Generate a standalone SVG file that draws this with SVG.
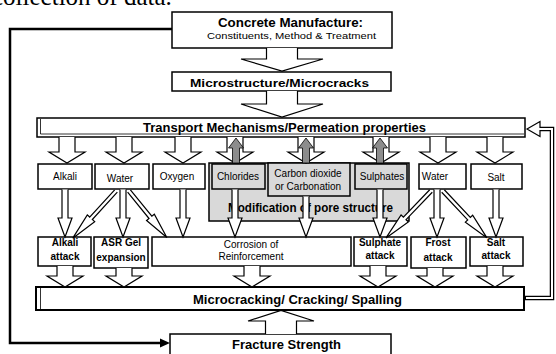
<svg xmlns="http://www.w3.org/2000/svg" width="556" height="354" viewBox="0 0 556 354">
<style>
text{font-family:"Liberation Sans",Arial,sans-serif;fill:#000;text-anchor:middle}
.box{fill:#fff;stroke:#000;stroke-width:1.5}
.gbox{fill:#d9d9d9;stroke:#000;stroke-width:1.5}
.arr{fill:#fff;stroke:#000;stroke-width:1.2;stroke-linejoin:miter}
.garr{fill:#8c8c8c;stroke:#000;stroke-width:0.8}
.s10{font-size:10px}
.b{font-weight:bold}
.big{font-size:12.5px;font-weight:bold}
</style>
<rect width="556" height="354" fill="#fff"/>
<text x="-8" y="5" style="font-family:'Liberation Serif',serif;font-size:25px;text-anchor:start">collection of data.</text>

<g id="concrete"><rect class="box" x="172" y="12" width="220" height="36"/>
<text class="big" x="290.5" y="27" textLength="145" lengthAdjust="spacingAndGlyphs">Concrete Manufacture:</text>
<text x="291.5" y="39" style="font-size:9.5px" textLength="169" lengthAdjust="spacingAndGlyphs">Constituents, Method &amp; Treatment</text></g>

<g id="micro"><rect class="box" x="172" y="72" width="219" height="19"/>
<text x="279.5" y="86.5" style="font-size:11.5px;font-weight:bold" textLength="179" lengthAdjust="spacingAndGlyphs">Microstructure/Microcracks</text></g>

<g id="transport"><rect class="box" x="37" y="118" width="488" height="19"/>
<polyline points="40.5,119 40.5,134 524,134" fill="none" stroke="#000" stroke-width="0.8"/>
<text class="big" x="284.5" y="132" textLength="283" lengthAdjust="spacingAndGlyphs">Transport Mechanisms/Permeation properties</text></g>

<g id="alkali"><rect class="box" x="38" y="164" width="54" height="25"/><text class="s10" x="65" y="180">Alkali</text></g>
<g id="water1"><rect class="box" x="95" y="164" width="54" height="25"/><text class="s10" x="120" y="182">Water</text></g>
<g id="oxygen"><rect class="box" x="153" y="164" width="52" height="25"/><text class="s10" x="177" y="180">Oxygen</text></g>

<g id="pore"><rect class="gbox" x="209" y="163" width="200" height="58"/>
<text class="big" x="310.5" y="212" textLength="165" lengthAdjust="spacingAndGlyphs">Modification of pore structure</text></g>
<g id="chlorides"><rect class="gbox" x="212" y="164" width="53" height="25"/><text class="s10" x="238" y="180">Chlorides</text></g>
<g id="carbon"><rect class="gbox" x="268" y="163" width="82" height="33"/>
<text class="s10" x="308" y="177">Carbon dioxide</text><text class="s10" x="308" y="190">or Carbonation</text></g>
<g id="sulphates"><rect class="gbox" x="355" y="164" width="52" height="25"/><text class="s10" x="382" y="180">Sulphates</text></g>

<g id="water2"><rect class="box" x="419" y="164" width="47" height="25"/><text class="s10" x="435" y="180">Water</text></g>
<g id="salt"><rect class="box" x="471" y="164" width="51" height="25"/><text class="s10" x="496" y="181">Salt</text></g>

<g id="alkaliattack"><rect class="box" x="38" y="237" width="53" height="29"/>
<text class="s10 b" x="65" y="246">Alkali</text><text class="s10 b" x="65" y="260">attack</text></g>
<g id="asr"><rect class="box" x="94" y="237" width="54" height="31"/>
<text class="s10 b" x="121" y="246">ASR Gel</text><text class="s10 b" x="121" y="261">expansion</text></g>
<g id="corrosion"><rect class="box" x="152" y="237" width="199" height="29"/>
<text class="s10" x="251" y="248">Corrosion of</text><text class="s10" x="251" y="260">Reinforcement</text></g>
<g id="sulphateattack"><rect class="box" x="354" y="237" width="53" height="29"/>
<text class="s10 b" x="380" y="246">Sulphate</text><text class="s10 b" x="380" y="259">attack</text></g>
<g id="frost"><rect class="box" x="411" y="237" width="55" height="31"/>
<text class="s10 b" x="438" y="246">Frost</text><text class="s10 b" x="438" y="261">attack</text></g>
<g id="saltattack"><rect class="box" x="470" y="237" width="53" height="29"/>
<text class="s10 b" x="496" y="246">Salt</text><text class="s10 b" x="496" y="259">attack</text></g>

<g id="microcracking"><rect class="box" x="36" y="287" width="488" height="23" style="stroke-width:2"/>
<line x1="40.5" y1="288" x2="40.5" y2="309" stroke="#000" stroke-width="0.8"/>
<text class="big" x="297.5" y="304" textLength="209" lengthAdjust="spacingAndGlyphs">Microcracking/ Cracking/ Spalling</text></g>

<g id="fracture"><rect class="box" x="170" y="334" width="221" height="30"/>
<text class="big" x="286.5" y="349" textLength="109" lengthAdjust="spacingAndGlyphs">Fracture Strength</text></g>

<g id="connectors">
<path class="arr" d="M266.5,48 V59 H241 L282,71 L323,59 H297.5 V48"/>
<path class="arr" d="M266.5,91 V104 H241 L282,117 L323,104 H297.5 V91"/>
<path class="arr" d="M265.5,334 V321 H248 L281,310.5 L314,321 H296.5 V334"/>

<path class="arr" d="M59,137 V152 H49 L67,163 L85,152 H75 V137"/>
<path class="arr" d="M116,137 V152 H106 L124,163 L142,152 H132 V137"/>
<path class="arr" d="M175,137 V152 H165 L183,163 L201,152 H191 V137"/>
<path class="arr" d="M227,137 V152 H217 L235,163 L253,152 H243 V137"/>
<path class="arr" d="M298,137 V152 H288 L306,163 L324,152 H314 V137"/>
<path class="arr" d="M373,137 V152 H363 L381,163 L399,152 H389 V137"/>
<path class="arr" d="M430,137 V152 H420 L438,163 L456,152 H446 V137"/>
<path class="arr" d="M487,137 V152 H477 L495,163 L513,152 H503 V137"/>

<path class="garr" d="M232.5,163 V148 H228.5 L236,138 L243.5,148 H239.5 V163 Z"/>
<path class="garr" d="M302.5,163 V148 H298.5 L306,138 L313.5,148 H309.5 V163 Z"/>
<path class="garr" d="M376.5,163 V148 H372.5 L380,138 L387.5,148 H383.5 V163 Z"/>

<path class="arr" d="M62,189.5 V218 H58 L65,237 L72,218 H68 V189.5"/>
<path class="arr" d="M120,189.5 V218 H116 L123,237 L130,218 H126 V189.5"/>
<path class="arr" d="M180,189.5 V218 H176 L183,237 L190,218 H186 V189.5"/>
<path class="arr" d="M232,189.5 V218 H228 L235,237 L242,218 H238 V189.5"/>
<path class="arr" d="M303,196.5 V218 H299 L306,237 L313,218 H309 V196.5"/>
<path class="arr" d="M377,189.5 V218 H373 L380,237 L387,218 H383 V189.5"/>
<path class="arr" d="M434,189.5 V218 H430 L437,237 L444,218 H440 V189.5"/>
<path class="arr" d="M493,189.5 V218 H489 L496,237 L503,218 H499 V189.5"/>

<path class="arr" transform="translate(116,191) rotate(132.5)" d="M0,-1.8 H37 V-5 L64,0 L37,5 V1.8 H0"/>
<path class="arr" transform="translate(129,191) rotate(50.9)" d="M0,-1.8 H34 V-5 L60,0 L34,5 V1.8 H0"/>
<path class="arr" transform="translate(431,191) rotate(133.8)" d="M0,-1.8 H38 V-5 L65,0 L38,5 V1.8 H0"/>
<path class="arr" transform="translate(443,191) rotate(46.8)" d="M0,-1.8 H38 V-5 L64,0 L38,5 V1.8 H0"/>

<path class="arr" d="M57,266 V276 H47 L65,287 L83,276 H73 V266"/>
<path class="arr" d="M116,268 V276 H106 L124,287 L142,276 H132 V268"/>
<path class="arr" d="M244,266 V276 H234 L252,287 L270,276 H260 V266"/>
<path class="arr" d="M370,266 V276 H360 L378,287 L396,276 H386 V266"/>
<path class="arr" d="M427,268 V276 H417 L435,287 L453,276 H443 V268"/>
<path class="arr" d="M487,266 V276 H477 L495,287 L513,276 H503 V266"/>

<path d="M172,29 H10 V343 H163" fill="none" stroke="#000" stroke-width="2.5"/>
<polygon points="170,343 160,338.5 160,347.5" fill="#000"/>

<path d="M525,298 H552 V129 H538" fill="none" stroke="#000" stroke-width="4.5"/>
<polygon points="527,129 540,121.5 540,136.5" fill="#fff" stroke="#000" stroke-width="1.2"/>
<path d="M526,298 H552 V129 H537" fill="none" stroke="#fff" stroke-width="2"/>
</g>
</svg>
